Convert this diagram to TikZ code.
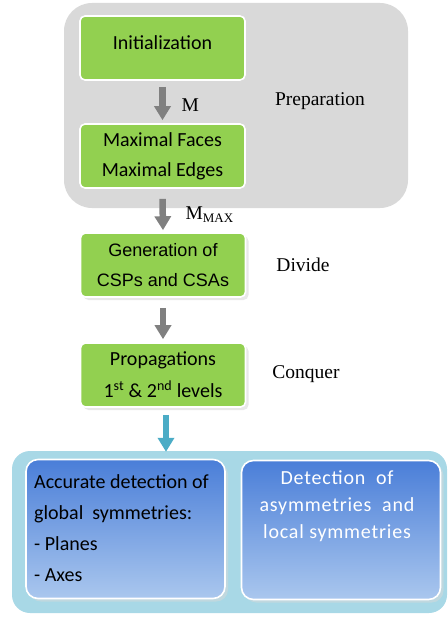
\documentclass[tikz,border=0pt]{standalone}
\usepackage{fontspec}
\setmainfont{Liberation Serif}
\newfontfamily\calfont{Carlito}
\newfontfamily\calspfont[LetterSpace=4]{Carlito}
\newfontfamily\arifont{Liberation Sans}
\usetikzlibrary{arrows.meta,shadows}
\definecolor{grn}{HTML}{92D050}
\definecolor{gbg}{HTML}{D9D9D9}
\definecolor{cy}{HTML}{4BACC6}
\definecolor{lcy}{HTML}{A8D8E6}
\definecolor{btop}{HTML}{4A7ED8}
\definecolor{bbot}{HTML}{AAC7EE}
\definecolor{arrg}{HTML}{808080}
\tikzset{
  gbox/.style={draw=white,line width=1.6pt,fill=grn,rounded corners=5pt,minimum width=165pt,minimum height=64pt,inner sep=0pt,align=center,
    drop shadow={shadow xshift=3pt,shadow yshift=-3pt,fill=black!15,opacity=0.6}},
  bbox/.style={draw=white,line width=1.6pt,rounded corners=12pt,minimum width=199pt,minimum height=139pt,inner sep=0pt,
    top color=btop,bottom color=bbot,drop shadow={shadow xshift=3pt,shadow yshift=-3pt,fill=black!15,opacity=0.5}},
  garr/.style={draw=arrg,line width=6.5pt,-{Triangle[width=16pt,length=14pt]}},
  carr/.style={draw=cy,line width=6.5pt,-{Triangle[width=16pt,length=14pt]}},
  lab/.style={font=\fontsize{19.5}{22}\selectfont},
}
\begin{document}
\begin{tikzpicture}[x=1pt,y=-1pt]
\useasboundingbox (0,0) rectangle (447,618);
\fill[gbg,rounded corners=28pt] (64,3) rectangle (408,208);
\fill[lcy,rounded corners=18pt] (12,451) rectangle (447,613);
\node[gbox] (init) at (162.5,48) {};
\node[font=\calfont\fontsize{20}{24}\selectfont] (inittxt) at (162.5,43) {Initialization};
\node[gbox,font=\calfont\fontsize{20}{30}\selectfont] (maxf) at (162.5,156) {Maximal Faces\\Maximal Edges};
\node[gbox,font=\arifont\fontsize{18}{30}\selectfont] (gen) at (163,265) {Generation of\\CSPs and CSAs};
\node[gbox,font=\calfont\fontsize{20}{32}\selectfont] (prop) at (163,375) {Propagations\\1\textsuperscript{st} \& 2\textsuperscript{nd} levels};
\node[lab] (prep) at (320,101) {Preparation};
\node[lab] (div) at (303,265) {Divide};
\node[lab] (con) at (306,374) {Conquer};
\node[bbox] (left) at (125.5,529) {};
\node[bbox] (right) at (341,530) {};
\node[anchor=north west,align=left,font=\calfont\fontsize{20}{31}\selectfont,inner sep=0pt] (ltxt) at (34,474) {Accurate detection of\\global\ \ symmetries:\\- Planes\\- Axes};
\node[anchor=north,align=center,font=\calspfont\fontsize{20}{27}\selectfont,text=white,inner sep=0pt] (rtxt) at (337,470) {Detection\ \ of\\asymmetries\ \ and\\local symmetries};
\draw[garr] ([yshift=-6pt]init.south) -- ([yshift=3pt]maxf.north);
\node[lab,anchor=west] (m) at (178,105) {M};
\draw[garr] ([yshift=-10pt]maxf.south) -- ([yshift=2pt]gen.north);
\node[lab,anchor=west] (mm) at (182,215) {M\textsubscript{\fontsize{13}{14}\selectfont MAX}};
\draw[garr] ([yshift=-10pt]gen.south) -- ([yshift=3pt]prop.north);
\draw[carr] ([xshift=3pt,yshift=-7pt]prop.south) -- ++(0,37);
\end{tikzpicture}
\end{document}
